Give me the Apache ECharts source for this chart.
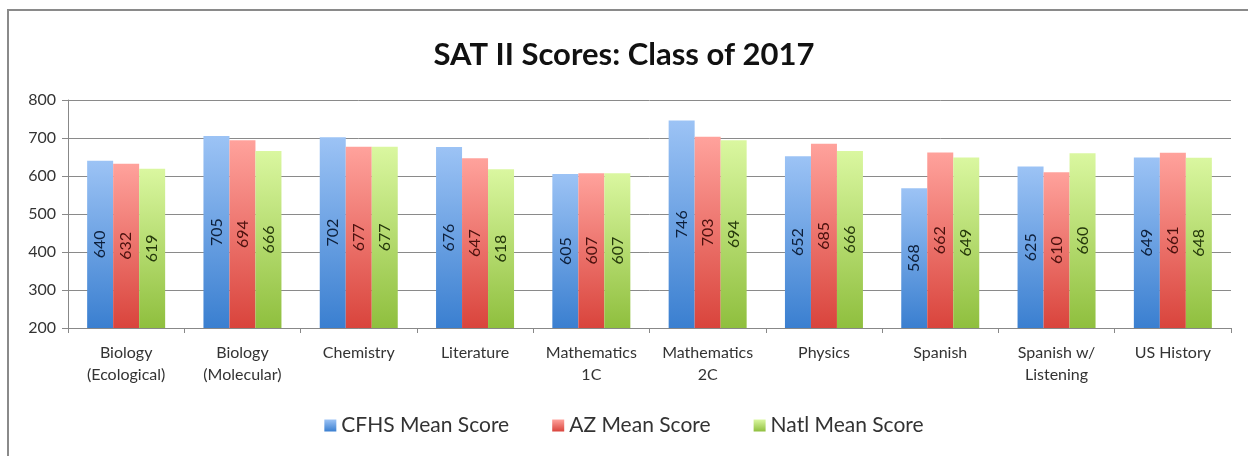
<!DOCTYPE html>
<html>
<head>
<meta charset="utf-8">
<script src="https://cdn.jsdelivr.net/npm/echarts@6/dist/echarts.min.js"></script>
<style>
  html, body { margin: 0; padding: 0; background: #fff; }
  #chart { width: 1248px; height: 456px; }
</style>
</head>
<body>
<div id="chart"></div>
<script>
var subjects = ['Biology\n(Ecological)', 'Biology\n(Molecular)', 'Chemistry', 'Literature',
  'Mathematics\n1C', 'Mathematics\n2C', 'Physics', 'Spanish', 'Spanish w/\nListening', 'US History'];
var cfhs = [640, 705, 702, 676, 605, 746, 652, 568, 625, 649];
var az = [632, 694, 677, 647, 607, 703, 685, 662, 610, 661];
var natl = [619, 666, 677, 618, 607, 694, 666, 649, 660, 648];

var font = 'Lato, "Open Sans", sans-serif';

function grad(top, bottom) {
  return new echarts.graphic.LinearGradient(0, 0, 0, 1, [
    { offset: 0, color: top },
    { offset: 1, color: bottom }
  ]);
}

function barSeries(name, data, top, bottom, textColor) {
  return {
    name: name,
    type: 'bar',
    data: data,
    barWidth: 26,
    barGap: '0%',
    itemStyle: { color: grad(top, bottom) },
    label: {
      show: true,
      position: 'inside',
      rotate: 90,
      color: textColor,
      fontFamily: font,
      fontSize: 16
    }
  };
}

var chart = echarts.init(document.getElementById('chart'));
chart.setOption({
  animation: false,
  title: {
    text: 'SAT II Scores: Class of 2017',
    left: 'center',
    top: 34,
    textStyle: { fontFamily: font, fontWeight: 'bold', fontSize: 31, color: '#111' }
  },
  legend: {
    bottom: 15,
    left: 'center',
    itemWidth: 12,
    itemHeight: 12,
    itemGap: 43,
    icon: 'rect',
    textStyle: { fontFamily: font, fontSize: 21, color: '#333' },
    data: [
      { name: 'CFHS Mean Score', itemStyle: { color: grad('#9cc3f5', '#3a7fd0') } },
      { name: 'AZ Mean Score', itemStyle: { color: grad('#ffa29c', '#d9443c') } },
      { name: 'Natl Mean Score', itemStyle: { color: grad('#daf7a0', '#8fbf3e') } }
    ]
  },
  graphic: [{
    type: 'rect',
    shape: { x: 8, y: 10, width: 1250, height: 460 },
    style: { fill: 'none', stroke: '#8a8a8a', lineWidth: 2 },
    silent: true
  }],
  grid: { left: 68, right: 17, top: 100, bottom: 128 },
  xAxis: {
    type: 'category',
    data: subjects,
    axisLine: { lineStyle: { color: '#888' } },
    axisTick: { show: true, length: 5, lineStyle: { color: '#888' } },
    axisLabel: { fontFamily: font, fontSize: 16, color: '#333', lineHeight: 22, margin: 14, interval: 0 }
  },
  yAxis: {
    type: 'value',
    min: 200,
    max: 800,
    interval: 100,
    axisLine: { show: true, lineStyle: { color: '#888' } },
    axisTick: { show: true, length: 6, lineStyle: { color: '#888' } },
    axisLabel: { fontFamily: font, fontSize: 16, color: '#333', margin: 12 },
    splitLine: { lineStyle: { color: '#8a8a8a', width: 1 } }
  },
  series: [
    barSeries('CFHS Mean Score', cfhs, '#9cc3f5', '#3a7fd0', '#0d1f3a'),
    barSeries('AZ Mean Score', az, '#ffa29c', '#d9443c', '#4a100d'),
    barSeries('Natl Mean Score', natl, '#daf7a0', '#8fbf3e', '#25380b')
  ]
});
</script>
</body>
</html>
